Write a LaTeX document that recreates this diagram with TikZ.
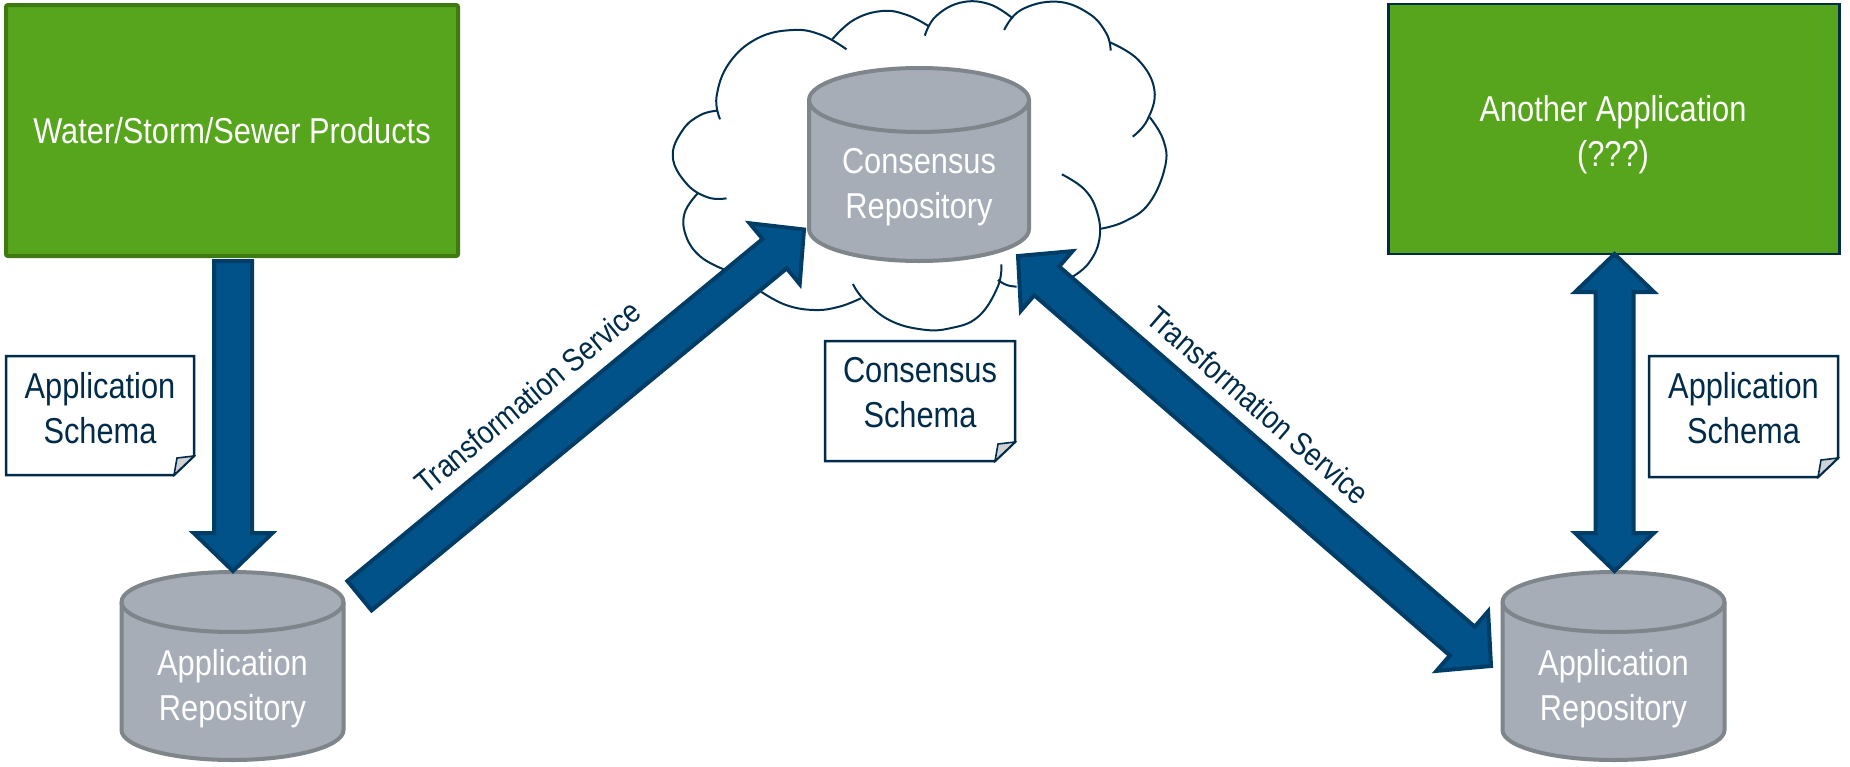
\documentclass[tikz,border=0pt]{standalone}
\usepackage{fontspec}
\setmainfont[FakeStretch=0.855]{Liberation Sans}
\usetikzlibrary{calc}
\definecolor{arrowfill}{HTML}{005288}
\definecolor{arrowline}{HTML}{003D66}
\definecolor{greenfill}{HTML}{56A51C}
\definecolor{greenline}{HTML}{3F7A10}
\definecolor{cylfill}{HTML}{A6ADB6}
\definecolor{cylline}{HTML}{7E858B}
\definecolor{navy}{HTML}{002B49}
\definecolor{foldfill}{HTML}{D0D3D6}
\tikzset{
  barrow/.style={draw=arrowline,fill=arrowfill,line width=2pt,miter limit=10},
  greenA/.style={draw=greenline,fill=greenfill,line width=2pt,inner sep=0pt,rounded corners=1pt},
  greenB/.style={draw=navy,fill=greenfill,line width=1.25pt,inner sep=0pt},
  cylbody/.style={draw=cylline,fill=cylfill,line width=2pt},
  notebox/.style={draw=navy,fill=white,line width=1.25pt,line join=miter},
  foldbox/.style={draw=navy,fill=foldfill,line width=.8pt},
  whitetext/.style={text=white,font=\fontsize{18}{22.5}\selectfont,align=center,inner sep=0pt},
  navytext/.style={text=navy,font=\fontsize{18}{22.5}\selectfont,align=center,inner sep=0pt},
  edgetext/.style={text=navy,font=\fontsize{16}{20}\selectfont,inner sep=0pt},
  cloudline/.style={draw=navy!90!arrowfill,line width=1pt},
}
% half widths and head length in pt
\def\SW{9.5pt}\def\HW{19.7pt}\def\HL{19pt}
\newcommand\OneWay[2]{%
  \coordinate (Hb) at ($(#2)!\HL!(#1)$);
  \draw[barrow] ($(#1)!\SW!90:(#2)$) -- ($(Hb)!\SW!90:(#2)$) -- ($(Hb)!\HW!90:(#2)$) -- (#2)
    -- ($(Hb)!\HW!-90:(#2)$) -- ($(Hb)!\SW!-90:(#2)$) -- ($(#1)!\SW!-90:(#2)$) -- cycle;}
\newcommand\TwoWay[2]{%
  \coordinate (Hb) at ($(#2)!\HL!(#1)$);
  \coordinate (Ha) at ($(#1)!\HL!(#2)$);
  \draw[barrow] (#1) -- ($(Ha)!\HW!90:(#2)$) -- ($(Ha)!\SW!90:(#2)$) -- ($(Hb)!\SW!90:(#2)$)
    -- ($(Hb)!\HW!90:(#2)$) -- (#2) -- ($(Hb)!\HW!-90:(#2)$) -- ($(Hb)!\SW!-90:(#2)$)
    -- ($(Ha)!\SW!-90:(#2)$) -- ($(Ha)!\HW!-90:(#2)$) -- cycle;}
% #1 name, #2 centre x, #3 top ellipse centre y, #4 x radius pt, #5 y radius pt, #6 body height px, #7 text
\newcommand\Repo[7]{%
  \draw[cylbody] ($(#2,#3)+(-#4,0)$) -- ($(#2,#3+#6)+(-#4,0)$)
     arc[start angle=180,end angle=360,x radius=#4,y radius=#5]
     -- ($(#2,#3)+(#4,0)$)
     arc[start angle=0,end angle=180,x radius=#4,y radius=#5] -- cycle;
  \draw[cylbody,fill=none] ($(#2,#3)+(-#4,0)$) arc[start angle=180,end angle=360,x radius=#4,y radius=#5];
  \node[whitetext] (#1) at (#2,#3+87) {#7};}
% #1 name, #2 x1, #3 y1, #4 x2, #5 y2, #6 text
\newcommand\NoteBox[6]{%
  \draw[notebox] (#2,#3) -- (#4,#3) -- (#4,#5-19) -- (#4-20,#5) -- (#2,#5) -- cycle;
  \draw[foldbox] (#4-20,#5) -- (#4-17,#5-17) -- (#4,#5-19) -- cycle;
  \node[navytext] (#1) at ({(#2+#4)/2},{#3+52}) {#6};}
\begin{document}
\begin{tikzpicture}[x=0.5pt,y=-0.5pt]
\useasboundingbox (0,0) rectangle (1850,766);
% cloud
\begin{scope}[shift={(640,0)},x=0.178pt,y=-0.16667pt]
\foreach \arcpts in {
 {(225,358) (215,290) (250,190) (330,115) (430,90) (510,105) (580,148)},
 {(540,118) (600,60) (680,33) (750,45) (810,78)},
 {(800,107) (830,50) (900,8) (980,12) (1047,55)},
 {(1023,90) (1070,30) (1170,5) (1260,40) (1310,100) (1322,152)},
 {(1320,127) (1400,180) (1445,270) (1425,360) (1384,410)},
 {(1432,352) (1470,420) (1475,500) (1430,610) (1360,665) (1290,687)},
 {(1185,523) (1250,570) (1285,640) (1290,720) (1260,790) (1215,830)},
 {(1005,840) (1030,855) (1058,860)},
 {(1015,793) (1005,860) (950,950) (870,985) (790,988) (700,960) (630,900) (598,852)},
 {(620,895) (560,920) (490,930) (410,915) (340,875)},
 {(235,808) (170,770) (130,710) (125,640) (162,580)},
 {(243,595) (190,592) (130,550) (92,470) (120,390) (170,345) (218,332)}}
 {\draw[cloudline] plot[smooth,tension=0.7] coordinates \arcpts;}
\end{scope}
% boxes
\node[greenA,minimum width=226pt,minimum height=125.5pt,whitetext] (wsp) at (232,130.5) {Water/Storm/Sewer Products};
\node[greenB,minimum width=225.5pt,minimum height=125pt] (other) at (1614,129) {};
\node[whitetext] (otherlabel) at (1613,135) {Another Application\\(???)};
% repositories
\Repo{repoL}{232.5}{602}{55.5pt}{15pt}{128}{Application\\Repository}
\Repo{repoR}{1613.5}{602}{55.5pt}{15pt}{128}{Application\\Repository}
\Repo{repoC}{919}{100}{55pt}{16pt}{129}{Consensus\\Repository}
% notes
\NoteBox{noteL}{6}{356}{194}{475}{Application\\Schema}
\NoteBox{noteC}{825}{341}{1015}{461}{Consensus\\Schema}
\NoteBox{noteR}{1649}{356}{1838}{477}{Application\\Schema}
% arrows
\coordinate (a1) at (233,261);   \coordinate (a2) at (233,571);
\coordinate (b1) at (359.5,595.7); \coordinate (b2) at (804,229.5);
\coordinate (c1) at (1018,256);  \coordinate (c2) at (1491,666);
\coordinate (d1) at (1614.5,254); \coordinate (d2) at (1614.5,571);
\OneWay{a1}{a2}
\OneWay{b1}{b2}
\TwoWay{c1}{c2}
\TwoWay{d1}{d2}
% labels
\node[edgetext,rotate=39.7] (tsL) at (528,397) {Transformation Service};
\node[edgetext,rotate=-41] (tsR) at (1258,405) {Transformation Service};
\end{tikzpicture}
\end{document}
